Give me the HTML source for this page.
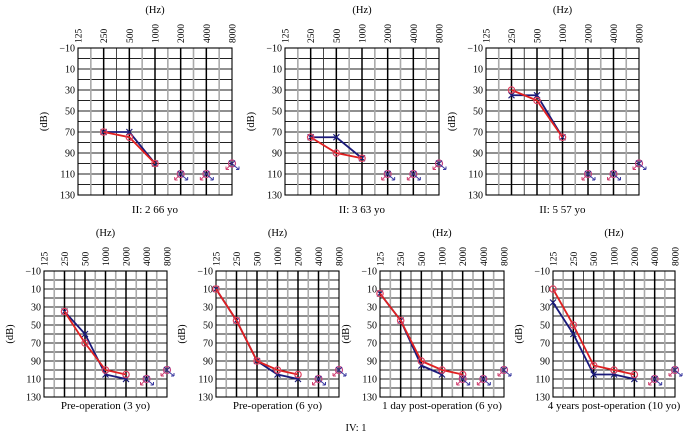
<!DOCTYPE html>
<html><head><meta charset="utf-8"><style>
body{margin:0;background:#fff;}
svg{display:block;font-family:"Liberation Serif","Times New Roman",serif;}
</style></head><body>
<svg id="c" width="687" height="437" viewBox="0 0 687 437"></svg>
<script>
const freqLabels=["125","250","500","1000","2000","4000","8000"];
const dbTicks=[-10,10,30,50,70,90,110,130];
const captions=["II: 2 66 yo","II: 3 63 yo","II: 5 57 yo","Pre-operation (3 yo)","Pre-operation (6 yo)","1 day post-operation (6 yo)","4 years post-operation (10 yo)"];
// series: [freqIndex, dB]
const blueSeries=[
 [[1,70],[2,70],[3,100]],
 [[1,75],[2,75],[3,95]],
 [[1,35],[2,35],[3,75]],
 [[1,35],[2,60],[3,105],[4,110]],
 [[0,10],[1,45],[2,90],[3,105],[4,110]],
 [[0,15],[1,45],[2,95],[3,105]],
 [[0,25],[1,60],[2,105],[3,105],[4,110]]
];
const redSeries=[
 [[1,70],[2,75],[3,100]],
 [[1,75],[2,90],[3,95]],
 [[1,30],[2,40],[3,75]],
 [[1,35],[2,70],[3,100],[4,105]],
 [[0,10],[1,45],[2,90],[3,100],[4,105]],
 [[0,15],[1,45],[2,90],[3,100],[4,105]],
 [[0,10],[1,50],[2,95],[3,100],[4,105]]
];
const noResponse=[
 [[4,110],[5,110],[6,100]],
 [[4,110],[5,110],[6,100]],
 [[4,110],[5,110],[6,100]],
 [[5,110],[6,100]],
 [[5,110],[6,100]],
 [[4,110],[5,110],[6,100]],
 [[5,110],[6,100]]
];
const panels=[
 {l:78,r:232,t:48,b:195,cap:213},
 {l:285,r:439,t:48,b:195,cap:213},
 {l:486,r:639,t:48,b:195,cap:213},
 {l:44,r:167,t:271,b:397,cap:409},
 {l:216,r:339,t:271,b:397,cap:409},
 {l:380,r:504,t:271,b:397,cap:409},
 {l:553,r:675,t:271,b:397,cap:409}
];
const NS="http://www.w3.org/2000/svg";
const svg=document.getElementById('c');
function mk(tag,attrs,parent){const e=document.createElementNS(NS,tag);for(const k in attrs)e.setAttribute(k,attrs[k]);(parent||svg).appendChild(e);return e;}
panels.forEach((p,i)=>{
 const g=mk('g',{});
 
 
 const xs=f=>p.l+(p.r-p.l)*f/6;
 const ys=d=>p.t+(p.b-p.t)*(d+10)/140;
 for(let d=-10;d<=130;d+=10){mk('line',{x1:p.l,x2:p.r,y1:ys(d),y2:ys(d),stroke:'#222','stroke-width':0.9},g);}
 for(let f=0.5;f<6;f+=1){const gray=(f!==1.5);mk('line',{x1:xs(f),x2:xs(f),y1:p.t,y2:p.b,stroke:gray?'#aaa':'#333','stroke-width':gray?1.6:0.9},g);}
 for(let f=1;f<6;f++){mk('line',{x1:xs(f),x2:xs(f),y1:p.t,y2:p.b,stroke:'#000','stroke-width':1.5},g);}
 mk('rect',{x:p.l,y:p.t,width:p.r-p.l,height:p.b-p.t,fill:'none',stroke:'#000','stroke-width':1.1},g);
 const hz=mk('text',{x:(p.l+p.r)/2,y:p.t-35,'font-size':10.5,'text-anchor':'middle'},g);hz.textContent='(Hz)';
 
 freqLabels.forEach((fl,k)=>{const t=mk('text',{x:0,y:0,'font-size':9.5,'text-anchor':'start',transform:`translate(${xs(k)+3.5},${p.t-5}) rotate(-90)`},g);t.textContent=fl;
  });
 dbTicks.forEach(d=>{const t=mk('text',{x:p.l-3,y:ys(d)+3.5,'font-size':10,'text-anchor':'end'},g);t.textContent=d<0?'\u221210':String(d);
  });
 const yt=mk('text',{x:0,y:0,'font-size':10.5,'text-anchor':'middle',transform:`translate(${p.l-31},${ys(60)}) rotate(-90)`},g);yt.textContent='(dB)';
 
 const cp=mk('text',{x:(p.l+p.r)/2,y:p.cap,'font-size':11,'text-anchor':'middle'},g);cp.textContent=captions[i];
 
 const bl=mk('polyline',{points:blueSeries[i].map(q=>xs(q[0])+','+ys(q[1])).join(' '),fill:'none',stroke:'#1a1a7a','stroke-width':1.8},g);
 
 blueSeries[i].forEach(q=>{const x=xs(q[0]),y=ys(q[1]);mk('path',{d:`M${x-3} ${y-3}L${x+3} ${y+3}M${x+3} ${y-3}L${x-3} ${y+3}`,stroke:'#1a1a7a','stroke-width':1.2},g);});
 const rl=mk('polyline',{points:redSeries[i].map(q=>xs(q[0])+','+ys(q[1])).join(' '),fill:'none',stroke:'#e02020','stroke-width':1.8},g);
 
 redSeries[i].forEach(q=>{mk('circle',{cx:xs(q[0]),cy:ys(q[1]),r:3.2,fill:'none',stroke:'#e04060','stroke-width':1.2},g);});
 noResponse[i].forEach(q=>{const x=xs(q[0]),y=ys(q[1]);
  const s=mk('g',{},g);
  mk('circle',{cx:x,cy:y,r:3.5,fill:'none',stroke:'#c04080','stroke-width':1.2},s);
  mk('path',{d:`M${x-3} ${y-3}L${x+3} ${y+3}M${x+3} ${y-3}L${x-3} ${y+3}`,stroke:'#3a2a8a','stroke-width':1.1},s);
  mk('path',{d:`M${x+2} ${y+2}L${x+7} ${y+6}M${x+7} ${y+6}l-3 0M${x+7} ${y+6}l0 -3`,stroke:'#3a3aa0','stroke-width':1,fill:'none'},s);
  mk('path',{d:`M${x-2} ${y+2}L${x-6} ${y+6}M${x-6} ${y+6}l3 0M${x-6} ${y+6}l0 -3`,stroke:'#d04070','stroke-width':1,fill:'none'},s);
 });
});
const iv=mk('text',{x:356,y:431,'font-size':10.5,'text-anchor':'middle'});iv.textContent='IV: 1';


</script>
</body></html>
